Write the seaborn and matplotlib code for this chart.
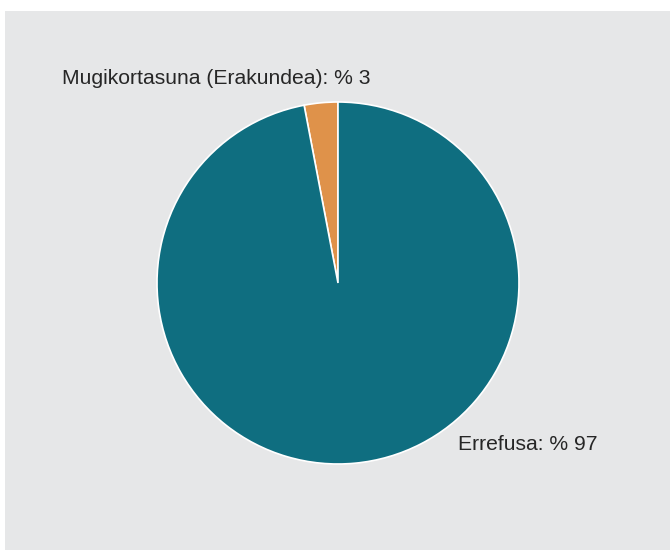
import matplotlib
matplotlib.use("Agg")
import matplotlib.pyplot as plt
import seaborn as sns
from matplotlib.patches import Rectangle

# data
categories = ["Mugikortasuna (Erakundea)", "Errefusa"]
shares = [3, 97]
colors = ["#df924a", "#0f6e80"]

sns.set_theme(style="white")
plt.rcParams['font.family'] = ['Liberation Sans', 'DejaVu Sans']

W, H = 670, 550
fig = plt.figure(figsize=(W / 100, H / 100), dpi=100, facecolor="white")

# gray panel
fig.patches.append(Rectangle((5 / W, 0), 1 - 5 / W, 1 - 11 / H, transform=fig.transFigure,
                             facecolor="#e6e7e8", edgecolor="none", zorder=-1))

cx, cy, r = 338, 283, 181
ax = fig.add_axes([(cx - r) / W, (H - cy - r) / H, 2 * r / W, 2 * r / H])
ax.set_zorder(1)
ax.set_facecolor("none")
ax.pie(shares, colors=colors, startangle=90, counterclock=True,
       wedgeprops=dict(edgecolor="white", linewidth=1.2))
ax.set_xlim(-1, 1)
ax.set_ylim(-1, 1)
ax.axis("off")

# labels
fig.text(62 / W, 1 - 79 / H, f"{categories[0]}: % {shares[0]}", fontsize=15.2,
         color="#262626", ha="left", va="center", zorder=2)
fig.text(458 / W, 1 - 445 / H, f"{categories[1]}: % {shares[1]}", fontsize=15.2,
         color="#262626", ha="left", va="center", zorder=2)

fig.savefig("out.png", dpi=100, facecolor="white")
